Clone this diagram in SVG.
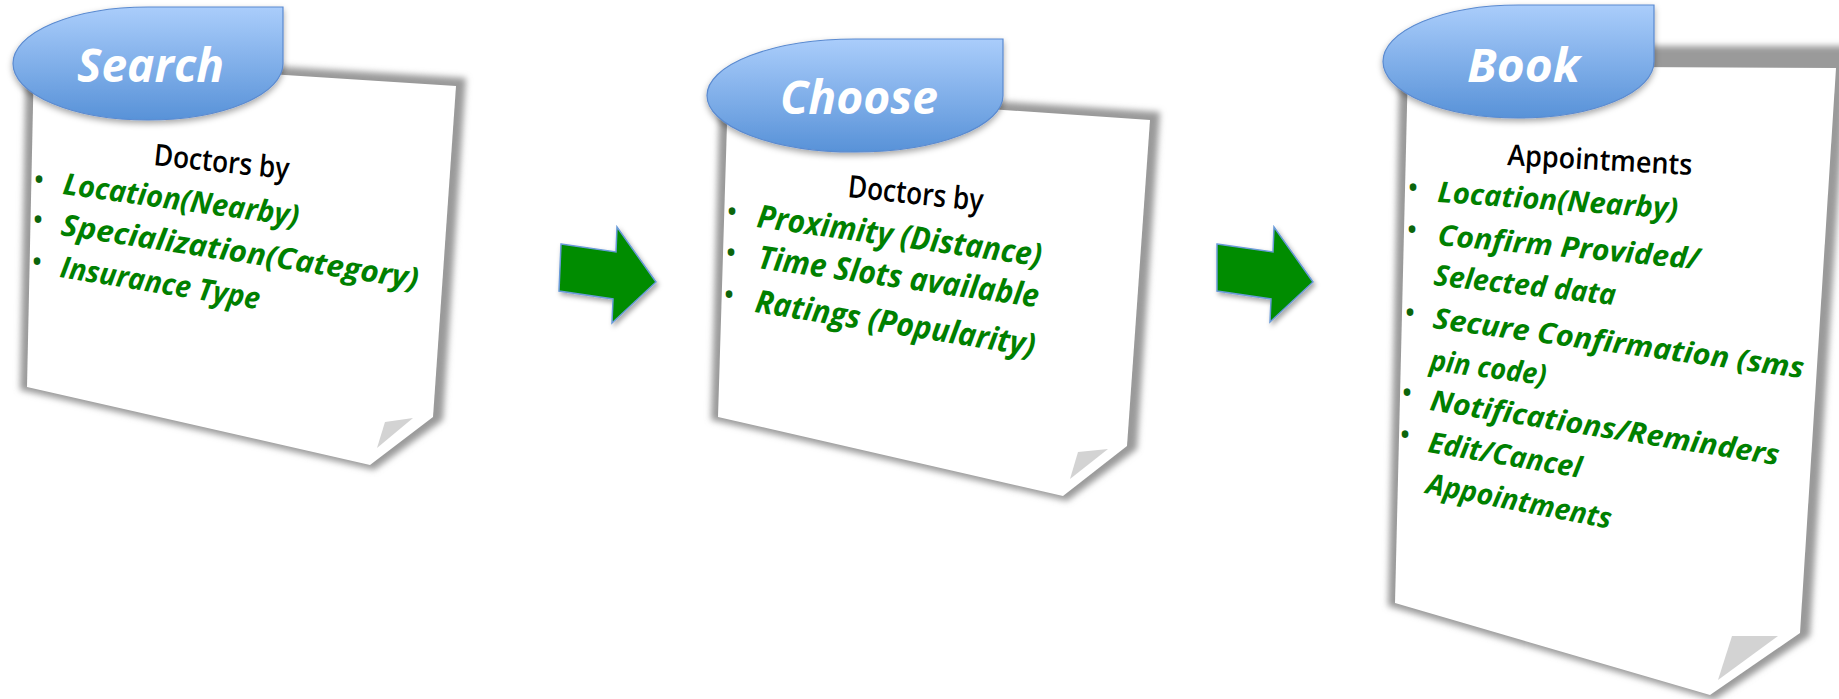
<svg xmlns="http://www.w3.org/2000/svg" width="1839" height="699" viewBox="0 0 1839 699">
<defs>
<linearGradient id="tabGrad" x1="0" y1="0" x2="0" y2="1">
<stop offset="0" stop-color="#aacdfb"/>
<stop offset="1" stop-color="#5892d8"/>
</linearGradient>
<filter id="blur" x="-10%" y="-10%" width="120%" height="120%"><feGaussianBlur stdDeviation="3"/></filter>
<filter id="tabShadow" x="-10%" y="-20%" width="120%" height="150%"><feDropShadow dx="0" dy="3" stdDeviation="3" flood-color="#000" flood-opacity="0.35"/></filter>
<filter id="arrowShadow" x="-20%" y="-20%" width="150%" height="150%"><feDropShadow dx="2" dy="3" stdDeviation="2.5" flood-color="#000" flood-opacity="0.35"/></filter>
</defs>
<style>
.shadow{fill:#9a9a9a;filter:url(#blur)}
.paper{fill:#fff}
.fold{fill:#d3d3d3}
.tab{fill:url(#tabGrad);stroke:#5a8ad0;stroke-width:1.2;filter:url(#tabShadow)}
.title{font-family:"Open Sans","DejaVu Sans",sans-serif;font-weight:700;font-style:italic;font-size:47px;fill:#fff}
.head{font-family:"Open Sans","DejaVu Sans",sans-serif;font-weight:600;font-size:30px;fill:#000}
.item{font-family:"Open Sans","DejaVu Sans",sans-serif;font-weight:700;font-style:italic;font-size:30px;fill:#008000}
.bul{font-family:"Open Sans","DejaVu Sans",sans-serif;font-size:32px;fill:#0b650b;text-anchor:middle}
.arrow{fill:#008c00;stroke:#6a9ad8;stroke-width:1.5;filter:url(#arrowShadow)}
</style>

<g id="node-search">
<polygon class="shadow" points="26,51 466,78 443,420 374,470 20,390"/>
<polygon class="paper" points="34,59 456,86 433,417 370,465 27,387"/>
<polygon class="fold" points="413,418 385,422 377,448"/>
<text class="head" transform="translate(153,165) rotate(6)" textLength="136" lengthAdjust="spacingAndGlyphs">Doctors by</text>
<text class="bul" x="39" y="191">•</text>
<text class="bul" x="38" y="231">•</text>
<text class="bul" x="37" y="273">•</text>
<text class="item" transform="translate(62,194) rotate(7.8)" textLength="238" lengthAdjust="spacingAndGlyphs">Location(Nearby)</text>
<text class="item" transform="translate(60,235) rotate(8.6)" textLength="361" lengthAdjust="spacingAndGlyphs">Specialization(Category)</text>
<text class="item" transform="translate(59,277) rotate(9.2)" textLength="202" lengthAdjust="spacingAndGlyphs">Insurance Type</text>
<path class="tab" d="M13,63.5 A135,56.5 0 0 1 148,7 L283,7 L283,63.5 A135,56.5 0 0 1 148,120 A135,56.5 0 0 1 13,63.5 Z"/>
<text class="title" x="77" y="82" textLength="147" lengthAdjust="spacingAndGlyphs">Search</text>
</g>

<g id="node-choose">
<polygon class="shadow" points="720,83 1160,112 1137,449 1067,501 711,420"/>
<polygon class="paper" points="728,91 1150,120 1127,446 1063,496 718,417"/>
<polygon class="fold" points="1108,449 1078,452 1070,479"/>
<text class="head" transform="translate(847,197) rotate(6)" style="font-size:31px" textLength="136" lengthAdjust="spacingAndGlyphs">Doctors by</text>
<text class="bul" x="732" y="223">•</text>
<text class="bul" x="731" y="264">•</text>
<text class="bul" x="729" y="306">•</text>
<text class="item" transform="translate(756,227) rotate(7.9)" style="font-size:32px" textLength="287" lengthAdjust="spacingAndGlyphs">Proximity (Distance)</text>
<text class="item" transform="translate(757,268) rotate(8)" style="font-size:32px" textLength="283" lengthAdjust="spacingAndGlyphs">Time Slots available</text>
<text class="item" transform="translate(754,312) rotate(9)" style="font-size:32px" textLength="283" lengthAdjust="spacingAndGlyphs">Ratings (Popularity)</text>
<path class="tab" d="M707,95.5 A148,56.5 0 0 1 855,39 L1003,39 L1003,95.5 A148,56.5 0 0 1 855,152 A148,56.5 0 0 1 707,95.5 Z"/>
<text class="title" x="780" y="114" textLength="158" lengthAdjust="spacingAndGlyphs">Choose</text>
</g>

<g id="node-book">
<polygon class="shadow" points="1400,46 1848,46 1810,636 1714,700 1388,606"/>
<polygon class="paper" points="1408,66 1836,68 1800,633 1710,695 1395,603"/>
<polygon class="fold" points="1778,636 1732,636 1718,680"/>
<text class="head" transform="translate(1507,165) rotate(3.1)" style="font-size:29px" textLength="185" lengthAdjust="spacingAndGlyphs">Appointments</text>
<text class="bul" x="1413" y="199">•</text>
<text class="bul" x="1412" y="241">•</text>
<text class="bul" x="1410" y="324">•</text>
<text class="bul" x="1407" y="404">•</text>
<text class="bul" x="1405" y="446">•</text>
<text class="item" transform="translate(1437,202) rotate(4)" style="font-size:29px" textLength="241" lengthAdjust="spacingAndGlyphs">Location(Nearby)</text>
<text class="item" transform="translate(1437,245) rotate(5.3)" style="font-size:29px" textLength="263" lengthAdjust="spacingAndGlyphs">Confirm Provided/</text>
<text class="item" transform="translate(1433,285) rotate(6.3)" style="font-size:29px" textLength="183" lengthAdjust="spacingAndGlyphs">Selected data</text>
<text class="item" transform="translate(1432,328) rotate(7.7)" style="font-size:29px" textLength="374" lengthAdjust="spacingAndGlyphs">Secure Confirmation (sms</text>
<text class="item" transform="translate(1429,370) rotate(7.5)" style="font-size:29px" textLength="117" lengthAdjust="spacingAndGlyphs">pin code)</text>
<text class="item" transform="translate(1429,410) rotate(9)" style="font-size:29px" textLength="353" lengthAdjust="spacingAndGlyphs">Notifications/Reminders</text>
<text class="item" transform="translate(1427,452) rotate(9.6)" style="font-size:29px" textLength="155" lengthAdjust="spacingAndGlyphs">Edit/Cancel</text>
<text class="item" transform="translate(1425,493) rotate(11)" style="font-size:29px" textLength="188" lengthAdjust="spacingAndGlyphs">Appointments</text>
<path class="tab" d="M1383,61.5 A135.5,56.5 0 0 1 1518.5,5 L1654,5 L1654,61.5 A135.5,56.5 0 0 1 1518.5,118 A135.5,56.5 0 0 1 1383,61.5 Z"/>
<text class="title" x="1467" y="82" textLength="113" lengthAdjust="spacingAndGlyphs">Book</text>
</g>

<g id="connectors">
<polygon id="arrow-search-choose" class="arrow" points="561,244 616,252 617,227 656,282 612,323 613,299 559,291"/>
<polygon id="arrow-choose-book" class="arrow" points="1217,244 1273,252 1274,227 1313,282 1270,322 1271,299 1217,291"/>
</g>
</svg>
